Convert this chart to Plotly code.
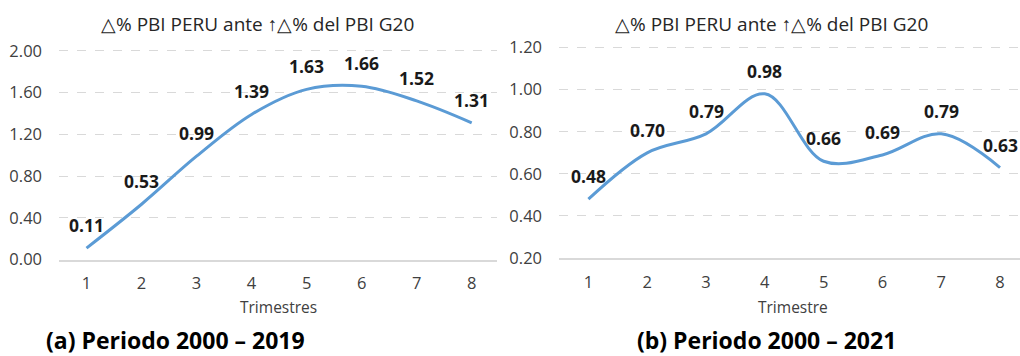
import plotly.graph_objects as go

# Quarterly response of Peru's GDP to a G20 GDP increase
trimestres = [1, 2, 3, 4, 5, 6, 7, 8]
pbi_2000_2019 = [0.11, 0.53, 0.99, 1.39, 1.63, 1.66, 1.52, 1.31]
pbi_2000_2021 = [0.48, 0.70, 0.79, 0.98, 0.66, 0.69, 0.79, 0.63]

titulo = "△% PBI PERU ante ↑△% del PBI G20"
eje_a = "Trimestres"
eje_b = "Trimestre"
panel_a = "(a) Periodo 2000 – 2019"
panel_b = "(b) Periodo 2000 – 2021"

W, H = 1020, 356
FONT = "Open Sans"
LINE = "#5B9BD5"
GRID = "#D9D9D9"
TXT = "#404040"


def px(x):
    return x / W


def py(y):
    return 1 - y / H


fig = go.Figure()

# y ranges are padded a little above the top tick so its gridline is drawn
panels = [
    dict(x=trimestres, y=pbi_2000_2019, xa="x", ya="y",
         xdom=[px(59), px(497)], ydom=[py(266), py(40.6)],
         xrange=[0.5, 8.46], yrange=[0, 2.05]),
    dict(x=trimestres, y=pbi_2000_2021, xa="x2", ya="y2",
         xdom=[px(559), 1.0], ydom=[py(264.5), py(37.1)],
         xrange=[0.5, 8.34], yrange=[0.2, 1.225]),
]

for p in panels:
    fig.add_trace(go.Scatter(
        x=p["x"], y=p["y"], xaxis=p["xa"], yaxis=p["ya"],
        mode="lines", line=dict(color=LINE, width=3, shape="spline", smoothing=1.0),
        hoverinfo="skip", showlegend=False, cliponaxis=False,
    ))
    for xv, yv in zip(p["x"], p["y"]):
        fig.add_annotation(
            x=xv, y=yv, xref=p["xa"], yref=p["ya"], text=f"<b>{yv:.2f}</b>",
            showarrow=False, yshift=23,
            font=dict(family=FONT, size=17.5, color="#1a1a1a"),
        )

axis_common = dict(showgrid=False, zeroline=False, fixedrange=True)
fig.update_layout(
    width=W, height=H, margin=dict(l=0, r=0, t=0, b=0),
    paper_bgcolor="white", plot_bgcolor="white",
    font=dict(family=FONT, size=16.5, color=TXT),
    xaxis=dict(domain=panels[0]["xdom"], range=panels[0]["xrange"], anchor="y",
               tickmode="array", tickvals=trimestres, showline=True, linecolor=GRID,
               linewidth=1.5, ticks="", ticklabelstandoff=8, **axis_common),
    yaxis=dict(domain=panels[0]["ydom"], range=panels[0]["yrange"], anchor="x",
               tickmode="array", tickvals=[0, 0.4, 0.8, 1.2, 1.6, 2.0],
               tickformat=".2f", showgrid=True, gridcolor=GRID,
               griddash="dash", gridwidth=1, ticks="", ticklabelstandoff=16,
               zeroline=False, fixedrange=True),
    xaxis2=dict(domain=panels[1]["xdom"], range=panels[1]["xrange"], anchor="y2",
                tickmode="array", tickvals=trimestres, showline=True, linecolor=GRID,
                linewidth=1.5, ticks="", ticklabelstandoff=8, **axis_common),
    yaxis2=dict(domain=panels[1]["ydom"], range=panels[1]["yrange"], anchor="x2",
                tickmode="array", tickvals=[0.2, 0.4, 0.6, 0.8, 1.0, 1.2],
                tickformat=".2f", showgrid=True, gridcolor=GRID,
                griddash="dash", gridwidth=1, ticks="", ticklabelstandoff=16,
                zeroline=False, fixedrange=True),
)

# titles, axis titles and panel captions
texts = [
    (titulo, 257, 18, 19, False, "#262626"),
    (titulo, 771, 18, 19, False, "#262626"),
    (eje_a, 278, 316, 15.5, False, TXT),
    (eje_b, 793, 316, 15.5, False, TXT),
    (panel_a, 175, 351, 23, True, "#000000"),
    (panel_b, 766, 351, 23, True, "#000000"),
]
for t, x, y, s, bold, c in texts:
    fig.add_annotation(
        x=px(x), y=py(y), xref="paper", yref="paper", showarrow=False,
        text=f"<b>{t}</b>" if bold else t, xanchor="center", yanchor="middle",
        font=dict(family=FONT, size=s, color=c),
    )

fig.write_html("out.html")
